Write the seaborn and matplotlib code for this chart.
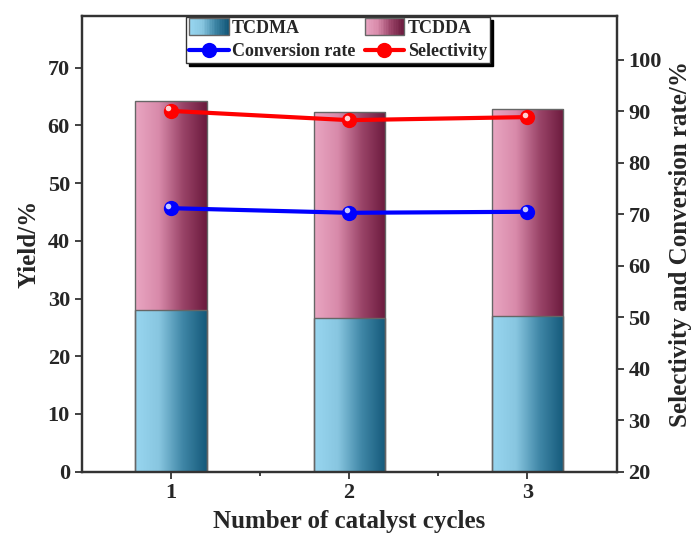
import numpy as np
import pandas as pd
import matplotlib
matplotlib.use('Agg')
import matplotlib.pyplot as plt
import seaborn as sns
from matplotlib.colors import LinearSegmentedColormap
from matplotlib.patches import Rectangle
from matplotlib.lines import Line2D
from matplotlib.legend_handler import HandlerBase
from matplotlib.transforms import ScaledTranslation

# data
cycles = [1, 2, 3]
tcdma = [28.0, 26.6, 27.0]
tcdda = [36.3, 35.7, 35.8]
conversion = [71.2, 70.3, 70.5]
selectivity = [90.1, 88.3, 88.9]

sns.set_style('ticks')
plt.rcParams['font.family'] = ['Liberation Serif', 'DejaVu Serif']
plt.rcParams['font.weight'] = 'bold'
plt.rcParams['axes.labelweight'] = 'bold'

blue_cmap = LinearSegmentedColormap.from_list('b', ['#98d6f0', '#88c6e0', '#3f86a6', '#14597a'])
pink_cmap = LinearSegmentedColormap.from_list('p', ['#e9a6c2', '#d88aaa', '#9a4468', '#6b1a3d'])

df = pd.DataFrame({'cycle': cycles, 'TCDMA': tcdma, 'TCDDA': tcdda})
df['total'] = df['TCDMA'] + df['TCDDA']

fig = plt.figure(figsize=(6.96, 5.39), dpi=100)
ax = fig.add_axes([0.1174, 0.1249, 0.7686, 0.8460])

# stacked bars: full height first (TCDDA on top), TCDMA drawn over it
sns.barplot(data=df, x='cycle', y='total', native_scale=True, width=0.4,
            color='#e9a6c2', edgecolor='#666666', linewidth=1.0, ax=ax)
n_tot = len(ax.patches)
sns.barplot(data=df, x='cycle', y='TCDMA', native_scale=True, width=0.4,
            color='#98d6f0', edgecolor='#666666', linewidth=1.0, ax=ax)

# horizontal gradient fill, clipped to each bar
grad = np.linspace(0, 1, 256).reshape(1, -1)
for i, p in enumerate(ax.patches):
    cmap = pink_cmap if i < n_tot else blue_cmap
    z = 0.5 if i < n_tot else 0.8
    x0, y0, w, h = p.get_x(), p.get_y(), p.get_width(), p.get_height()
    im = ax.imshow(grad, extent=[x0, x0 + w, y0, y0 + h], cmap=cmap,
                   aspect='auto', zorder=z, interpolation='bilinear')
    im.set_clip_path(p)
    p.set_facecolor('none')
    p.set_zorder(1.5)

ax.set_xlim(0.5, 3.5)
ax.set_ylim(0, 79)
ax.set_aspect('auto')
ax.set_xticks(cycles)
ax.set_xticks([1.5, 2.5], minor=True)
ax.set_xticklabels([str(c) for c in cycles])
ax.set_yticks(np.arange(0, 80, 10))
ax.set_xlabel('Number of catalyst cycles', fontsize=18, labelpad=5)
ax.set_ylabel('Yield/%', fontsize=18, labelpad=5)
ax.tick_params(axis='both', which='major', labelsize=16, width=1.3, length=5, color='#333333')
ax.tick_params(axis='x', which='minor', width=1.3, length=3, color='#333333')
for s in ax.spines.values():
    s.set_linewidth(1.6)
    s.set_color('#333333')

ax2 = ax.twinx()
lines_df = pd.DataFrame({'cycle': cycles, 'conv': conversion, 'sel': selectivity})
sns.lineplot(data=lines_df, x='cycle', y='conv', color='#0000ff', lw=3, marker='o',
             markersize=11, markeredgewidth=0, ax=ax2)
sns.lineplot(data=lines_df, x='cycle', y='sel', color='#ff0000', lw=3, marker='o',
             markersize=11, markeredgewidth=0, ax=ax2)
# sphere highlights
hl = ScaledTranslation(-2.5 / 100, 2.5 / 100, fig.dpi_scale_trans)
for vals, c in [(conversion, '#c8c8ff'), (selectivity, '#ffd0d0')]:
    ax2.plot(cycles, vals, ls='none', marker='o', markersize=4, color=c,
             markeredgewidth=0, transform=ax2.transData + hl, zorder=5)
ax2.set_ylim(20, 108.6)
ax2.set_xlim(0.5, 3.5)
ax2.set_yticks(np.arange(20, 101, 10))
ax2.set_ylabel('Selectivity and Conversion rate/%', fontsize=18, labelpad=5)
ax2.set_xlabel('')
ax2.tick_params(axis='y', labelsize=16, width=1.3, length=5, color='#333333')
for s in ax2.spines.values():
    s.set_linewidth(1.6)
    s.set_color('#333333')


class GradHandler(HandlerBase):
    def __init__(self, cmap):
        super().__init__()
        self.cmap = cmap

    def create_artists(self, legend, orig_handle, xdescent, ydescent, width, height, fontsize, trans):
        n = 24
        arts = []
        y0 = -ydescent - 0.15 * height
        hh = height * 1.3
        for i in range(n):
            arts.append(Rectangle((-xdescent + i * width / n, y0), width / n + 0.3, hh,
                                  facecolor=self.cmap(i / (n - 1)), edgecolor='none', transform=trans))
        arts.append(Rectangle((-xdescent, y0), width, hh, facecolor='none',
                              edgecolor='#666666', lw=1, transform=trans))
        return arts


h_ma = Rectangle((0, 0), 1, 1)
h_da = Rectangle((0, 0), 1, 1)
h_conv = Line2D([], [], color='#0000ff', lw=3, marker='o', markersize=11, markeredgewidth=0)
h_sel = Line2D([], [], color='#ff0000', lw=3, marker='o', markersize=11, markeredgewidth=0)
leg = ax2.legend([h_ma, h_conv, h_da, h_sel], ['TCDMA', 'Conversion rate', 'TCDDA', 'Selectivity'],
                 handler_map={h_ma: GradHandler(blue_cmap), h_da: GradHandler(pink_cmap)},
                 ncol=2, loc='upper center', bbox_to_anchor=(0.479, 0.997), borderaxespad=0,
                 fontsize=13, frameon=True, fancybox=False, shadow={'color': 'black', 'alpha': 1},
                 edgecolor='#333333', framealpha=1, handlelength=2.2, handletextpad=0.2,
                 columnspacing=0.5, labelspacing=0.35, borderpad=0.15)
leg.get_frame().set_linewidth(1.0)

fig.savefig('out.png', dpi=100)
